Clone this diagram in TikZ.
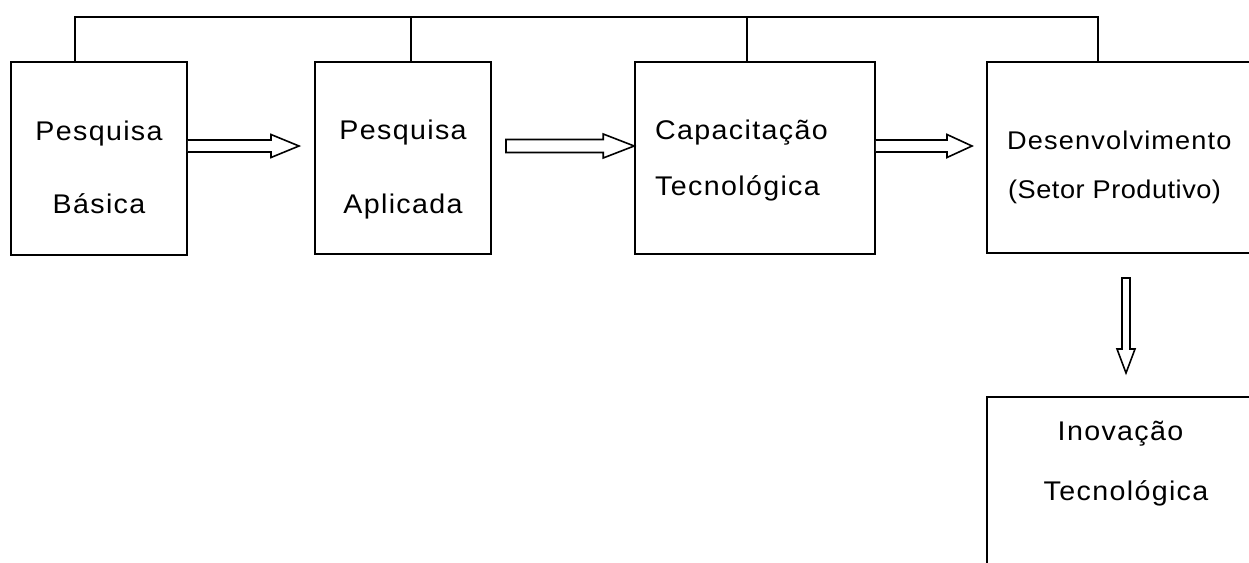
\documentclass[tikz,border=0pt]{standalone}
\usepackage{fontspec}
\newfontfamily\lab{Liberation Sans}[FakeStretch=1.06, LetterSpace=5]
\newfontfamily\labsm{Liberation Sans}[FakeStretch=1.06, LetterSpace=2]
\newfontfamily\labmd{Liberation Sans}[FakeStretch=1.06, LetterSpace=4.5]
\usetikzlibrary{calc}
\begin{document}
\begin{tikzpicture}[x=1pt,y=1pt,
  box/.style={draw, line width=1.6pt, rectangle, inner sep=0pt},
  line/.style={line width=1.6pt},
  hollow/.style={draw, line width=1.6pt, fill=white, line join=miter},
  txt/.style={inner sep=0pt, font=\lab\fontsize{27}{28}\selectfont},
  txtsm/.style={inner sep=0pt, font=\labsm\fontsize{25.6}{26}\selectfont},
  txtmd/.style={inner sep=0pt, font=\labmd\fontsize{25.6}{26}\selectfont}]
\useasboundingbox (0,0) rectangle (1249,-562);
\clip (0,0) rectangle (1249,-562);
\fill[white] (0,0) rectangle (1249,-562);

% boxes
\node[box, minimum width=176, minimum height=193] (b1) at (99,-158.5) {};
\node[box, minimum width=176, minimum height=192] (b2) at (403,-158) {};
\node[box, minimum width=240, minimum height=192] (b3) at (755,-158) {};
\node[box, minimum width=265, minimum height=191] (b4) at (1119.5,-157.5) {};
\node[box, minimum width=265, minimum height=183] (b5) at (1119.5,-488.5) {};

% labels
\node[txt, anchor=base] (l1a) at (99,-140) {Pesquisa};
\node[txt, anchor=base] (l1b) at (99,-213) {Básica};
\node[txt, anchor=base] (l2a) at (403,-139) {Pesquisa};
\node[txt, anchor=base] (l2b) at (403,-213) {Aplicada};
\node[txt, anchor=base west] (l3a) at (655,-139) {Capacitação};
\node[txt, anchor=base west] (l3b) at (655,-195) {Tecnológica};
\node[txtmd, anchor=base west] (l4a) at (1007,-149) {Desenvolvimento};
\node[txtsm, anchor=base west] (l4b) at (1008,-198) {(Setor Produtivo)};
\node[txt, anchor=base] (l5a) at (1120.5,-440) {Inovação};
\node[txt, anchor=base] (l5b) at (1126,-500) {Tecnológica};

% feedback bus along the top
\coordinate (t1) at (75,-17);
\coordinate (t2) at (411,-17);
\coordinate (t3) at (747,-17);
\coordinate (t4) at (1098,-17);
\draw[line] (t1 |- b1.north) -- (t1) -- (t4) -- (t4 |- b4.north);
\draw[line] (t2) -- (t2 |- b2.north);
\draw[line] (t3) -- (t3 |- b3.north);

% hollow block arrows
\coordinate (a1s) at (b1.east |- 0,-146);
\coordinate (a1t) at (299,-146);
\draw[hollow] ($(a1s)+(0,6)$) -- ($(a1t)+(-28,6)$) -- ($(a1t)+(-28,11.5)$) -- (a1t)
  -- ($(a1t)+(-28,-11.5)$) -- ($(a1t)+(-28,-6)$) -- ($(a1s)+(0,-6)$);

\coordinate (a2s) at (506,-146);
\coordinate (a2t) at (b3.west |- 0,-146);
\draw[hollow] ($(a2s)+(0,6.5)$) -- ($(a2t)+(-31,6.5)$) -- ($(a2t)+(-31,12)$) -- (a2t)
  -- ($(a2t)+(-31,-12)$) -- ($(a2t)+(-31,-6.5)$) -- ($(a2s)+(0,-6.5)$) -- cycle;

\coordinate (a3s) at (b3.east |- 0,-146);
\coordinate (a3t) at (972,-146);
\draw[hollow] ($(a3s)+(0,6)$) -- ($(a3t)+(-25,6)$) -- ($(a3t)+(-25,11.5)$) -- (a3t)
  -- ($(a3t)+(-25,-11.5)$) -- ($(a3t)+(-25,-6)$) -- ($(a3s)+(0,-6)$);

\coordinate (a4s) at (1126,-278);
\coordinate (a4t) at (1126,-373);
\draw[hollow] ($(a4s)+(-4,0)$) -- ($(a4t)+(-4,24)$) -- ($(a4t)+(-9,24)$) -- (a4t)
  -- ($(a4t)+(9,24)$) -- ($(a4t)+(4,24)$) -- ($(a4s)+(4,0)$) -- cycle;
\end{tikzpicture}
\end{document}
